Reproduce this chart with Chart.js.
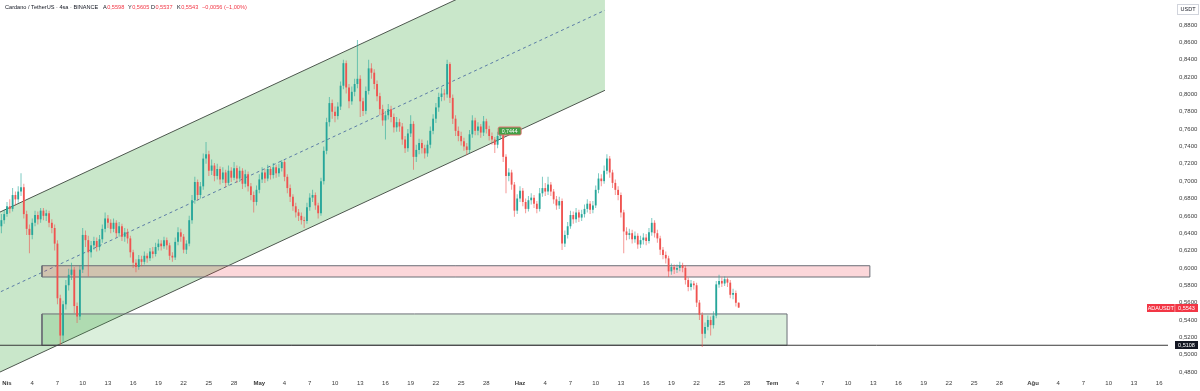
<!DOCTYPE html>
<html>
<head>
<meta charset="utf-8">
<title>Cardano / TetherUS · 4sa</title>
<script src="https://cdn.jsdelivr.net/npm/chart.js@4.4.1/dist/chart.umd.min.js"></script>
<style>
  html, body { margin: 0; padding: 0; background: #fff; }
  #chart { display: block; }
</style>
</head>
<body>
<canvas id="chart" width="1200" height="391"></canvas>
<script>
(function () {
  'use strict';

  var FONT = '"Liberation Sans", Arial, sans-serif';
  var UP = '#26a69a', DOWN = '#ef5350';

  // ── DATA ──────────────────────────────────────────────────────────────────
  // 8h candles. Days are counted from Apr 1, 00:00.

  var firstCandleDay = -2 / 3;
  var candleStep = 1 / 3;
  var firstOpen = 0.648;

  var closes = [
    0.655, 0.662, 0.671, 0.668, 0.684, 0.679, 0.688, 0.693, 0.662, 0.645,
    0.638, 0.652, 0.661, 0.656, 0.666, 0.660, 0.663, 0.652, 0.646, 0.628,
    0.565, 0.522, 0.558, 0.580, 0.592, 0.598, 0.556, 0.544, 0.598, 0.638,
    0.632, 0.618, 0.626, 0.631, 0.624, 0.633, 0.645, 0.657, 0.652, 0.645,
    0.652, 0.640, 0.648, 0.636, 0.641, 0.634, 0.618, 0.606, 0.601, 0.610,
    0.607, 0.614, 0.611, 0.619, 0.616, 0.624, 0.628, 0.625, 0.632, 0.626,
    0.614, 0.612, 0.630, 0.641, 0.636, 0.621, 0.628, 0.655, 0.678, 0.699,
    0.684, 0.694, 0.726, 0.731, 0.712, 0.718, 0.706, 0.714, 0.702, 0.710,
    0.698, 0.712, 0.704, 0.715, 0.703, 0.712, 0.697, 0.708, 0.694, 0.684,
    0.676, 0.690, 0.702, 0.710, 0.703, 0.714, 0.707, 0.716, 0.709, 0.715,
    0.722, 0.705, 0.692, 0.682, 0.671, 0.664, 0.660, 0.655, 0.654, 0.670,
    0.681, 0.684, 0.672, 0.663, 0.700, 0.735, 0.768, 0.790, 0.780, 0.775,
    0.786, 0.810, 0.836, 0.808, 0.792, 0.803, 0.812, 0.818, 0.792, 0.781,
    0.804, 0.830, 0.825, 0.812, 0.798, 0.783, 0.770, 0.776, 0.783, 0.774,
    0.762, 0.768, 0.763, 0.748, 0.738, 0.755, 0.766, 0.728, 0.736, 0.744,
    0.738, 0.732, 0.742, 0.758, 0.772, 0.785, 0.797, 0.801, 0.800, 0.835,
    0.796, 0.772, 0.758, 0.752, 0.746, 0.740, 0.736, 0.754, 0.770, 0.758,
    0.763, 0.756, 0.769, 0.760, 0.752, 0.748, 0.742, 0.752, 0.757, 0.728,
    0.706, 0.710, 0.696, 0.666, 0.680, 0.689, 0.676, 0.668, 0.678, 0.681,
    0.674, 0.668, 0.686, 0.692, 0.688, 0.696, 0.688, 0.679, 0.672, 0.677,
    0.628, 0.638, 0.648, 0.661, 0.656, 0.664, 0.658, 0.662, 0.668, 0.674,
    0.667, 0.672, 0.690, 0.703, 0.700, 0.712, 0.726, 0.710, 0.698, 0.690,
    0.684, 0.664, 0.642, 0.638, 0.640, 0.633, 0.637, 0.627, 0.632, 0.635,
    0.631, 0.641, 0.652, 0.640, 0.634, 0.621, 0.615, 0.611, 0.596, 0.601,
    0.598, 0.600, 0.603, 0.600, 0.586, 0.578, 0.582, 0.580, 0.560, 0.546,
    0.524, 0.532, 0.540, 0.534, 0.545, 0.581, 0.585, 0.582, 0.587, 0.583,
    0.569, 0.571, 0.5598, 0.5543
  ];

  var highs = [
    0.662, 0.667, 0.676, 0.679, 0.692, 0.688, 0.694, 0.709, 0.697, 0.666,
    0.650, 0.657, 0.666, 0.665, 0.669, 0.669, 0.667, 0.666, 0.656, 0.650,
    0.632, 0.569, 0.562, 0.586, 0.599, 0.606, 0.601, 0.560, 0.603, 0.646,
    0.643, 0.637, 0.631, 0.636, 0.635, 0.638, 0.650, 0.664, 0.661, 0.656,
    0.657, 0.655, 0.653, 0.651, 0.646, 0.645, 0.637, 0.621, 0.610, 0.615,
    0.614, 0.619, 0.617, 0.623, 0.624, 0.629, 0.633, 0.632, 0.636, 0.635,
    0.629, 0.618, 0.635, 0.647, 0.645, 0.639, 0.632, 0.660, 0.684, 0.705,
    0.702, 0.699, 0.732, 0.745, 0.735, 0.725, 0.721, 0.720, 0.717, 0.716,
    0.713, 0.718, 0.716, 0.722, 0.718, 0.717, 0.715, 0.713, 0.711, 0.698,
    0.688, 0.695, 0.708, 0.716, 0.714, 0.719, 0.717, 0.721, 0.719, 0.720,
    0.7245, 0.724, 0.708, 0.696, 0.685, 0.675, 0.668, 0.664, 0.659, 0.675,
    0.686, 0.690, 0.687, 0.675, 0.704, 0.740, 0.773, 0.797, 0.794, 0.786,
    0.791, 0.815, 0.840, 0.839, 0.812, 0.809, 0.818, 0.8627, 0.822, 0.796,
    0.809, 0.840, 0.836, 0.829, 0.816, 0.802, 0.788, 0.781, 0.789, 0.787,
    0.778, 0.774, 0.772, 0.767, 0.752, 0.760, 0.776, 0.769, 0.742, 0.749,
    0.748, 0.742, 0.747, 0.763, 0.777, 0.790, 0.802, 0.808, 0.806, 0.840,
    0.837, 0.800, 0.776, 0.763, 0.757, 0.750, 0.744, 0.759, 0.776, 0.773,
    0.768, 0.766, 0.775, 0.772, 0.764, 0.756, 0.751, 0.757, 0.762, 0.760,
    0.731, 0.715, 0.713, 0.699, 0.685, 0.694, 0.692, 0.680, 0.683, 0.686,
    0.684, 0.677, 0.692, 0.705, 0.698, 0.705, 0.699, 0.691, 0.683, 0.682,
    0.680, 0.643, 0.653, 0.666, 0.665, 0.669, 0.667, 0.667, 0.673, 0.679,
    0.677, 0.677, 0.695, 0.709, 0.708, 0.718, 0.731, 0.729, 0.713, 0.702,
    0.694, 0.687, 0.667, 0.647, 0.645, 0.644, 0.642, 0.640, 0.637, 0.640,
    0.639, 0.646, 0.6575, 0.655, 0.644, 0.637, 0.624, 0.619, 0.614, 0.605,
    0.604, 0.604, 0.607, 0.606, 0.603, 0.589, 0.586, 0.585, 0.583, 0.563,
    0.549, 0.537, 0.545, 0.544, 0.550, 0.585, 0.592, 0.589, 0.590, 0.589,
    0.586, 0.576, 0.574, 0.5605
  ];

  var lows = [
    0.640, 0.651, 0.659, 0.663, 0.665, 0.672, 0.675, 0.683, 0.657, 0.638,
    0.617, 0.633, 0.648, 0.650, 0.652, 0.655, 0.654, 0.647, 0.640, 0.620,
    0.558, 0.511, 0.515, 0.552, 0.574, 0.586, 0.548, 0.5365, 0.540, 0.594,
    0.624, 0.590, 0.612, 0.621, 0.619, 0.620, 0.629, 0.641, 0.646, 0.640,
    0.641, 0.635, 0.636, 0.631, 0.630, 0.628, 0.612, 0.600, 0.595, 0.598,
    0.602, 0.604, 0.606, 0.608, 0.611, 0.613, 0.620, 0.620, 0.622, 0.621,
    0.609, 0.607, 0.609, 0.626, 0.630, 0.617, 0.616, 0.625, 0.651, 0.674,
    0.678, 0.680, 0.690, 0.720, 0.706, 0.707, 0.700, 0.702, 0.696, 0.698,
    0.693, 0.695, 0.699, 0.701, 0.698, 0.699, 0.691, 0.693, 0.688, 0.678,
    0.664, 0.672, 0.686, 0.698, 0.698, 0.700, 0.702, 0.703, 0.704, 0.705,
    0.711, 0.700, 0.686, 0.676, 0.666, 0.658, 0.654, 0.650, 0.646, 0.651,
    0.666, 0.676, 0.667, 0.657, 0.660, 0.696, 0.731, 0.763, 0.772, 0.768,
    0.771, 0.782, 0.806, 0.801, 0.784, 0.788, 0.798, 0.807, 0.774, 0.775,
    0.777, 0.800, 0.818, 0.806, 0.792, 0.776, 0.764, 0.748, 0.771, 0.768,
    0.756, 0.757, 0.757, 0.742, 0.7325, 0.734, 0.751, 0.713, 0.722, 0.731,
    0.732, 0.726, 0.728, 0.738, 0.754, 0.767, 0.780, 0.792, 0.793, 0.796,
    0.790, 0.766, 0.752, 0.746, 0.741, 0.735, 0.730, 0.732, 0.750, 0.753,
    0.753, 0.750, 0.752, 0.755, 0.747, 0.742, 0.7325, 0.738, 0.748, 0.722,
    0.686, 0.700, 0.690, 0.659, 0.662, 0.676, 0.671, 0.663, 0.665, 0.673,
    0.669, 0.663, 0.665, 0.682, 0.683, 0.684, 0.683, 0.674, 0.667, 0.668,
    0.6206, 0.624, 0.634, 0.645, 0.651, 0.652, 0.653, 0.654, 0.658, 0.664,
    0.662, 0.663, 0.669, 0.686, 0.694, 0.697, 0.708, 0.704, 0.692, 0.684,
    0.678, 0.658, 0.617, 0.632, 0.633, 0.628, 0.629, 0.622, 0.623, 0.627,
    0.626, 0.628, 0.637, 0.635, 0.629, 0.615, 0.610, 0.605, 0.5895, 0.592,
    0.593, 0.594, 0.596, 0.595, 0.581, 0.573, 0.574, 0.575, 0.555, 0.540,
    0.5088, 0.519, 0.528, 0.522, 0.530, 0.542, 0.577, 0.578, 0.579, 0.578,
    0.565, 0.564, 0.5555, 0.5537
  ];

  var xTickDays = [
    0, 3, 6, 9, 12, 15, 18, 21, 24, 27,
    30, 33, 36, 39, 42, 45, 48, 51, 54, 57,
    61, 64, 67, 70, 73, 76, 79, 82, 85, 88,
    91, 94, 97, 100, 103, 106, 109, 112, 115, 118,
    122, 125, 128, 131, 134, 137
  ];
  var xTickLabels = [
    'Nis', '4', '7', '10', '13', '16', '19', '22', '25', '28',
    'May', '4', '7', '10', '13', '16', '19', '22', '25', '28',
    'Haz', '4', '7', '10', '13', '16', '19', '22', '25', '28',
    'Tem', '4', '7', '10', '13', '16', '19', '22', '25', '28',
    'Ağu', '4', '7', '10', '13', '16'
  ];
  var yTickValues = [
    0.48, 0.50, 0.52, 0.54, 0.56, 0.58, 0.60, 0.62, 0.64, 0.66, 0.68,
    0.70, 0.72, 0.74, 0.76, 0.78, 0.80, 0.82, 0.84, 0.86, 0.88
  ];

  // drawings on the chart
  var channelDays  = [-2.02, 71.1];
  var channelUpper = [0.659, 0.9892];
  var channelLower = [0.4746, 0.8047];
  var channelMid   = [0.5668, 0.8970];

  var resistanceDays   = [4.16, 102.6];
  var resistancePrices = [0.5895, 0.6025];
  var supportDays      = [4.16, 92.75];
  var supportPrices    = [0.5108, 0.5469];
  var supportLevel     = 0.5108;

  var calloutDay = 58.4, calloutPrice = 0.7578, calloutText = '0,7444';

  var headerTitle  = 'Cardano / TetherUS · 4sa · BINANCE';
  var headerItems  = [['A', '0,5598'], ['Y', '0,5605'], ['D', '0,5537'], ['K', '0,5543']];
  var headerChange = '−0,0056 (−1,00%)';
  var symbolName   = 'ADAUSDT';
  var currency     = 'USDT';

  if (highs.length !== closes.length || lows.length !== closes.length) {
    throw new Error('candle arrays differ: ' + closes.length + '/' + highs.length + '/' + lows.length);
  }

  // ── CANDLES ───────────────────────────────────────────────────────────────

  var opens = [firstOpen].concat(closes.slice(0, -1));
  var days  = closes.map(function (_, i) { return firstCandleDay + i * candleStep; });
  var up    = closes.map(function (c, i) { return c >= opens[i]; });

  var bodyData = closes.map(function (c, i) { return { x: days[i], y: [opens[i], c] }; });
  var wickData = closes.map(function (c, i) { return { x: days[i], y: [lows[i], highs[i]] }; });

  function fmt(v) { return v.toFixed(4).replace('.', ','); }

  function lineSet(xs, ys, opts) {
    return Object.assign({
      type: 'line',
      data: xs.map(function (x, i) { return { x: x, y: ys[i] }; }),
      borderWidth: 1,
      pointRadius: 0,
      tension: 0,
      fill: false
    }, opts);
  }

  function box(xs, ps) {
    return {
      x: [xs[0], xs[1], xs[1], xs[0], xs[0]],
      y: [ps[0], ps[0], ps[1], ps[1], ps[0]]
    };
  }

  var resBox = box(resistanceDays, resistancePrices);
  var supBox = box(supportDays, supportPrices);
  var NONE = 'rgba(0,0,0,0)';

  var datasets = [
    { // 0 bodies
      type: 'bar', data: bodyData, order: 0, grouped: false,
      categoryPercentage: 1, barPercentage: 0.65,
      backgroundColor: up.map(function (u) { return u ? UP : DOWN; })
    },
    { // 1 wicks
      type: 'bar', data: wickData, order: 1, grouped: false,
      categoryPercentage: 1, barPercentage: 0.65, maxBarThickness: 1,
      backgroundColor: up.map(function (u) { return u ? 'rgba(38,166,154,0.6)' : 'rgba(239,83,80,0.6)'; })
    },
    // 2-4 parallel channel
    lineSet(channelDays, channelUpper, { order: 20, borderColor: '#4d574e', fill: 3, backgroundColor: 'rgba(76,175,80,0.3)' }),
    lineSet(channelDays, channelLower, { order: 19, borderColor: '#4d574e' }),
    lineSet(channelDays, channelMid,   { order: 18, borderColor: '#5b7ca6', borderDash: [3, 3] }),
    // 5-7 resistance zone
    lineSet(resistanceDays, [resistancePrices[1], resistancePrices[1]], { order: 17, borderColor: NONE, fill: 6, backgroundColor: 'rgba(242,54,69,0.2)' }),
    lineSet(resistanceDays, [resistancePrices[0], resistancePrices[0]], { order: 16, borderColor: NONE }),
    lineSet(resBox.x, resBox.y, { order: 15, borderColor: '#6b6e76' }),
    // 8-10 support zone
    lineSet(supportDays, [supportPrices[1], supportPrices[1]], { order: 14, borderColor: NONE, fill: 9, backgroundColor: 'rgba(76,175,80,0.2)' }),
    lineSet(supportDays, [supportPrices[0], supportPrices[0]], { order: 13, borderColor: NONE }),
    lineSet(supBox.x, supBox.y, { order: 12, borderColor: '#6b6e76' }),
    // 11 horizontal level
    lineSet([-1, 139], [supportLevel, supportLevel], { order: 11, borderColor: '#3a3a3a' })
  ];

  // ── TEXT AND LABELS ───────────────────────────────────────────────────────

  var overlay = {
    id: 'overlay',
    beforeDraw: function (chart) {
      var ctx = chart.ctx;
      ctx.save();
      ctx.fillStyle = '#ffffff';
      ctx.fillRect(0, 0, chart.width, chart.height);
      ctx.restore();
    },
    afterDraw: function (chart) {
      var ctx = chart.ctx;
      var xs = chart.scales.x, ys = chart.scales.y;
      ctx.save();
      ctx.textBaseline = 'middle';

      // header line
      ctx.font = '5.6px ' + FONT;
      ctx.textAlign = 'left';
      ctx.fillStyle = '#131722';
      ctx.fillText(headerTitle, 5, 7.5);
      var hx = [103, 128, 151, 177];
      headerItems.forEach(function (it, i) {
        ctx.fillStyle = '#131722';
        ctx.fillText(it[0], hx[i], 7.5);
        ctx.fillStyle = '#f23645';
        ctx.fillText(it[1], hx[i] + ctx.measureText(it[0]).width + 0.4, 7.5);
      });
      ctx.fillText(headerChange, 202, 7.5);

      // currency box
      ctx.strokeStyle = '#d1d4dc';
      ctx.lineWidth = 1;
      ctx.strokeRect(1177.5, 4.5, 21, 10);
      ctx.fillStyle = '#131722';
      ctx.font = '5.5px ' + FONT;
      ctx.textAlign = 'center';
      ctx.fillText(currency, 1188, 9.7);

      // last price
      var last = closes[closes.length - 1];
      var yl = Math.round(ys.getPixelForValue(last));
      ctx.fillStyle = '#f23645';
      ctx.fillRect(1147, yl - 4, 51, 8);
      ctx.fillStyle = 'rgba(255,255,255,0.55)';
      ctx.fillRect(1174.5, yl - 4, 0.8, 8);
      ctx.fillStyle = '#ffffff';
      ctx.fillText(symbolName, 1160.8, yl + 0.3);
      ctx.fillText(fmt(last), 1186.5, yl + 0.3);

      // level label
      var ys5 = Math.round(ys.getPixelForValue(supportLevel));
      ctx.fillStyle = '#131722';
      ctx.fillRect(1175, ys5 - 4, 23, 8);
      ctx.fillStyle = '#ffffff';
      ctx.fillText(fmt(supportLevel), 1186.5, ys5 + 0.3);

      // callout
      var cx = xs.getPixelForValue(calloutDay), cy = ys.getPixelForValue(calloutPrice);
      ctx.fillStyle = '#43a047';
      ctx.strokeStyle = '#e57373';
      ctx.beginPath();
      ctx.roundRect(cx, cy - 4, 23, 8, 1.5);
      ctx.fill();
      ctx.stroke();
      ctx.fillStyle = '#ffffff';
      ctx.font = '5.2px ' + FONT;
      ctx.fillText(calloutText, cx + 11.5, cy + 0.3);

      ctx.restore();
    }
  };

  // ── CHART ─────────────────────────────────────────────────────────────────

  Chart.defaults.font.family = FONT;

  new Chart(document.getElementById('chart'), {
    type: 'bar',
    data: { datasets: datasets },
    plugins: [overlay],
    options: {
      responsive: false,
      animation: false,
      devicePixelRatio: 1,
      events: [],
      layout: { padding: 0 },
      plugins: { legend: { display: false }, tooltip: { enabled: false } },
      scales: {
        x: {
          type: 'linear',
          min: -0.832,
          max: 138.05,
          offset: false,
          grid: { display: false, drawTicks: false },
          border: { display: false },
          afterBuildTicks: function (s) {
            s.ticks = xTickDays.map(function (d) { return { value: d }; });
          },
          afterFit: function (s) { s.height = 13; s.paddingLeft = 0; s.paddingRight = 0; },
          ticks: {
            autoSkip: false,
            maxRotation: 0,
            minRotation: 0,
            padding: 2,
            color: '#3b3b3b',
            font: function (c) {
              var lbl = xTickLabels[c.index] || '';
              return { family: FONT, size: 6, weight: isNaN(+lbl) ? 'bold' : 'normal' };
            },
            callback: function (v, i) { return xTickLabels[i]; }
          }
        },
        y: {
          type: 'linear',
          position: 'right',
          min: 0.47308,
          max: 0.90882,
          stacked: false,
          grid: { display: false, drawTicks: false },
          border: { display: false },
          afterBuildTicks: function (s) {
            s.ticks = yTickValues.map(function (v) { return { value: v }; });
          },
          afterFit: function (s) { s.width = 32; s.paddingTop = 0; s.paddingBottom = 0; },
          ticks: {
            autoSkip: false,
            padding: 11,
            color: '#3b3b3b',
            font: { family: FONT, size: 6 },
            callback: function (v) { return fmt(v); }
          }
        }
      }
    }
  });
}());
</script>
</body>
</html>
